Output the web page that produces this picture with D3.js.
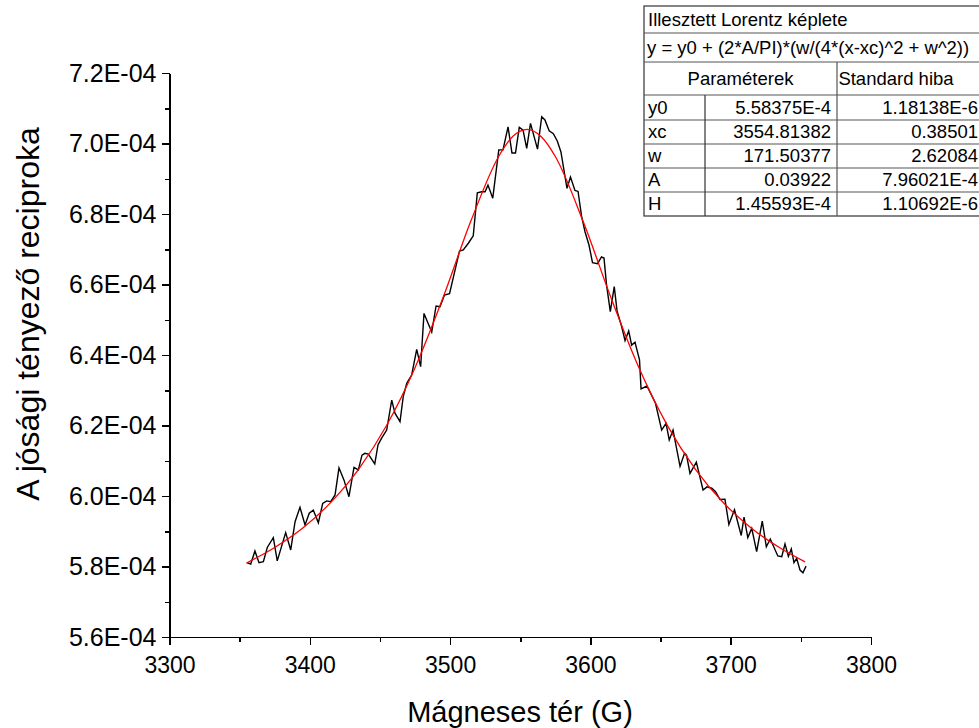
<!DOCTYPE html>
<html lang="hu">
	<head>
		<meta charset="utf-8">
		<title>D3: Lorentz illesztés</title>
		<script type="text/javascript" src="https://cdn.jsdelivr.net/npm/d3@7"></script>
		<style type="text/css">
			body {
				margin: 0;
				background-color: white;
			}
			svg {
				display: block;
				font-family: Arial, "Liberation Sans", sans-serif;
			}
			.axis path,
			.axis line {
				stroke: black;
				stroke-width: 1.5px;
				shape-rendering: crispEdges;
			}
			.axis text {
				fill: black;
			}
			.x.axis text {
				font-size: 23px;
			}
			.y.axis text {
				font-size: 25px;
			}
			.tbl text {
				font-size: 18.5px;
				fill: black;
			}
		</style>
	</head>
	<body>
		<script type="text/javascript">

			//Width and height
			var w = 979;
			var h = 728;

			//Measured data: field (G) and reciprocal Q (in units of 1E-04)
			var fieldG = [3355.0, 3357.9, 3360.9, 3363.8, 3366.9, 3369.7, 3374.0, 3376.8, 3382.8, 3386.4,
				3389.5, 3393.0, 3396.6, 3399.6, 3402.5, 3406.1, 3409.2, 3412.0, 3414.9, 3418.0,
				3420.8, 3424.4, 3427.9, 3431.5, 3434.6, 3437.2, 3439.3, 3441.7, 3446.3, 3448.6,
				3451.2, 3454.8, 3458.4, 3460.7, 3464.3, 3466.6, 3469.1, 3472.6, 3476.2, 3479.0,
				3481.4, 3486.9, 3490.0, 3492.8, 3496.0, 3499.6, 3506.7, 3509.4, 3513.0, 3516.5,
				3519.4, 3522.5, 3524.9, 3527.0, 3530.4, 3534.7, 3537.7, 3541.3, 3544.1, 3546.6,
				3549.3, 3552.0, 3554.6, 3557.3, 3562.3, 3565.3, 3567.6, 3570.6, 3573.6, 3576.4,
				3579.0, 3583.3, 3585.8, 3589.0, 3591.2, 3593.7, 3596.2, 3599.0, 3601.5, 3605.1,
				3607.9, 3609.7, 3611.5, 3614.2, 3617.0, 3619.0, 3622.3, 3624.7, 3627.3, 3629.4,
				3631.8, 3635.0, 3636.1, 3640.3, 3646.4, 3650.8, 3653.9, 3656.2, 3658.9, 3663.9,
				3667.1, 3668.5, 3671.0, 3675.5, 3680.3, 3683.1, 3686.5, 3689.2, 3692.4, 3695.9,
				3698.7, 3702.7, 3707.5, 3709.5, 3712.2, 3715.0, 3718.5, 3722.5, 3725.4, 3728.2,
				3733.6, 3736.4, 3738.7, 3741.1, 3743.2, 3745.1, 3747.0, 3749.4, 3751.5, 3753.7];

			var recipQ = [5.811, 5.807, 5.844, 5.811, 5.814, 5.854, 5.882, 5.816, 5.896, 5.847,
				5.927, 5.968, 5.918, 5.951, 5.960, 5.924, 5.979, 5.986, 5.984, 6.003,
				6.080, 6.045, 5.998, 6.081, 6.074, 6.116, 6.121, 6.119, 6.091, 6.145,
				6.164, 6.187, 6.272, 6.235, 6.211, 6.282, 6.320, 6.343, 6.416, 6.367,
				6.518, 6.465, 6.539, 6.537, 6.570, 6.574, 6.695, 6.698, 6.717, 6.738,
				6.860, 6.863, 6.863, 6.882, 6.845, 6.982, 6.982, 7.047, 6.973, 6.973,
				7.046, 7.038, 6.986, 7.057, 6.984, 7.076, 7.067, 7.036, 7.028, 7.007,
				6.976, 6.873, 6.905, 6.867, 6.864, 6.794, 6.749, 6.712, 6.662, 6.659,
				6.678, 6.675, 6.599, 6.523, 6.594, 6.525, 6.480, 6.441, 6.468, 6.428,
				6.436, 6.386, 6.304, 6.312, 6.263, 6.187, 6.206, 6.159, 6.187, 6.084,
				6.121, 6.116, 6.064, 6.096, 6.017, 6.026, 6.022, 6.012, 5.990, 5.991,
				5.919, 5.961, 5.888, 5.940, 5.882, 5.908, 5.842, 5.929, 5.856, 5.878,
				5.830, 5.828, 5.864, 5.829, 5.850, 5.811, 5.823, 5.790, 5.782, 5.801];

			//Fitted Lorentz curve (units of 1E-04)
			var fitG = [3355, 3375, 3395, 3415, 3435, 3455, 3475, 3495, 3515, 3535, 3545, 3555,
				3565, 3575, 3595, 3615, 3635, 3655, 3675, 3695, 3715, 3735, 3753];
			var fitQ = [5.810, 5.854, 5.909, 5.982, 6.077, 6.202, 6.364, 6.563, 6.782, 6.966, 7.021, 7.040,
				7.019, 6.963, 6.777, 6.559, 6.360, 6.199, 6.075, 5.980, 5.908, 5.853, 5.813];

			//Ticks
			var xTicks = [3300, 3400, 3500, 3600, 3700, 3800];
			var xMinor = [3350, 3450, 3550, 3650, 3750];
			var yTicks = [5.6, 5.8, 6.0, 6.2, 6.4, 6.6, 6.8, 7.0, 7.2];
			var yMinor = [5.7, 5.9, 6.1, 6.3, 6.5, 6.7, 6.9, 7.1];

			//Fit result table
			var tblTitle = "Illesztett Lorentz képlete";
			var tblFormula = "y = y0 + (2*A/PI)*(w/(4*(x-xc)^2 + w^2))";
			var tblHeads = ["Paraméterek", "Standard hiba"];
			var paramNames = ["y0", "xc", "w", "A", "H"];
			var paramValues = ["5.58375E-4", "3554.81382", "171.50377", "0.03922", "1.45593E-4"];
			var paramErrors = ["1.18138E-6", "0.38501", "2.62084", "7.96021E-4", "1.10692E-6"];

			var dataset = fieldG.map(function(g, i) { return { x: g, y: recipQ[i] }; });
			var fitset = fitG.map(function(g, i) { return { x: g, y: fitQ[i] }; });

			//Create scale functions
			var xScale = d3.scaleLinear()
						   .domain([3300, 3800])
						   .range([169.5, 871]);

			var yScale = d3.scaleLinear()
						   .domain([5.6, 7.2])
						   .range([637, 73]);

			//Create SVG element
			var svg = d3.select("body")
						.append("svg")
						.attr("width", w)
						.attr("height", h);

			//Minor ticks
			svg.append("g")
				.attr("class", "axis")
				.attr("transform", "translate(0,637)")
				.call(d3.axisBottom(xScale).tickValues(xMinor).tickSize(5).tickFormat(""))
				.select(".domain").remove();

			svg.append("g")
				.attr("class", "axis")
				.attr("transform", "translate(169.5,0)")
				.call(d3.axisLeft(yScale).tickValues(yMinor).tickSize(5).tickFormat(""))
				.select(".domain").remove();

			//Create X axis
			svg.append("g")
				.attr("class", "x axis")
				.attr("transform", "translate(0,637)")
				.call(d3.axisBottom(xScale)
						.tickValues(xTicks)
						.tickSize(8)
						.tickSizeOuter(0)
						.tickPadding(12)
						.tickFormat(d3.format("d")));

			//Create Y axis
			svg.append("g")
				.attr("class", "y axis")
				.attr("transform", "translate(169.5,0)")
				.call(d3.axisLeft(yScale)
						.tickValues(yTicks)
						.tickSize(8)
						.tickSizeOuter(0)
						.tickPadding(5)
						.tickFormat(function(d) { return d.toFixed(1) + "E-04"; }));

			//Measured line (black)
			var line = d3.line()
						 .x(function(d) { return xScale(d.x); })
						 .y(function(d) { return yScale(d.y); });

			svg.append("path")
				.datum(dataset)
				.attr("fill", "none")
				.attr("stroke", "black")
				.attr("stroke-width", 1.4)
				.attr("d", line);

			//Fit line (red)
			svg.append("path")
				.datum(fitset)
				.attr("fill", "none")
				.attr("stroke", "#ff0000")
				.attr("stroke-width", 1.3)
				.attr("d", line.curve(d3.curveMonotoneX));

			//Axis titles
			svg.append("text")
				.attr("transform", "translate(39,314) rotate(-90)")
				.attr("text-anchor", "middle")
				.attr("font-size", "32px")
				.attr("fill", "black")
				.text("A jósági tényező reciproka");

			svg.append("text")
				.attr("x", 520)
				.attr("y", 722)
				.attr("text-anchor", "middle")
				.attr("font-size", "29px")
				.attr("fill", "black")
				.text("Mágneses tér (G)");

			//Fit table
			var tx0 = 644, tx1 = 705, tx2 = 837, tx3 = 992;
			var rows = [6, 33, 62, 95, 120, 144, 168, 192, 216];
			var tbl = svg.append("g").attr("class", "tbl");

			tbl.append("rect")
				.attr("x", tx0)
				.attr("y", rows[0])
				.attr("width", tx3 - tx0)
				.attr("height", rows[8] - rows[0])
				.attr("fill", "white")
				.attr("stroke", "#333")
				.attr("stroke-width", 1.2);

			rows.slice(1, 8).forEach(function(ry) {
				tbl.append("line")
					.attr("x1", tx0).attr("x2", tx3)
					.attr("y1", ry).attr("y2", ry)
					.attr("stroke", "#555").attr("stroke-width", 1.2);
			});

			tbl.append("line")
				.attr("x1", tx1).attr("x2", tx1)
				.attr("y1", rows[3]).attr("y2", rows[8])
				.attr("stroke", "#333").attr("stroke-width", 1.2);

			tbl.append("line")
				.attr("x1", tx2).attr("x2", tx2)
				.attr("y1", rows[2]).attr("y2", rows[8])
				.attr("stroke", "#555").attr("stroke-width", 1.2);

			tbl.append("text").attr("x", tx0 + 4).attr("y", (rows[0] + rows[1]) / 2 + 6).text(tblTitle);
			tbl.append("text").attr("x", tx0 + 3).attr("y", (rows[1] + rows[2]) / 2 + 6).text(tblFormula);
			tbl.append("text").attr("x", (tx0 + tx2) / 2).attr("y", (rows[2] + rows[3]) / 2 + 6)
				.attr("text-anchor", "middle").text(tblHeads[0]);
			tbl.append("text").attr("x", (tx2 + 955) / 2).attr("y", (rows[2] + rows[3]) / 2 + 6)
				.attr("text-anchor", "middle").text(tblHeads[1]);

			paramNames.forEach(function(name, i) {
				var cy = (rows[3 + i] + rows[4 + i]) / 2 + 6;
				tbl.append("text").attr("x", tx0 + 4).attr("y", cy).text(name);
				tbl.append("text").attr("x", tx2 - 6).attr("y", cy)
					.attr("text-anchor", "end").text(paramValues[i]);
				tbl.append("text").attr("x", 978).attr("y", cy)
					.attr("text-anchor", "end").text(paramErrors[i]);
			});

		</script>
	</body>
</html>
